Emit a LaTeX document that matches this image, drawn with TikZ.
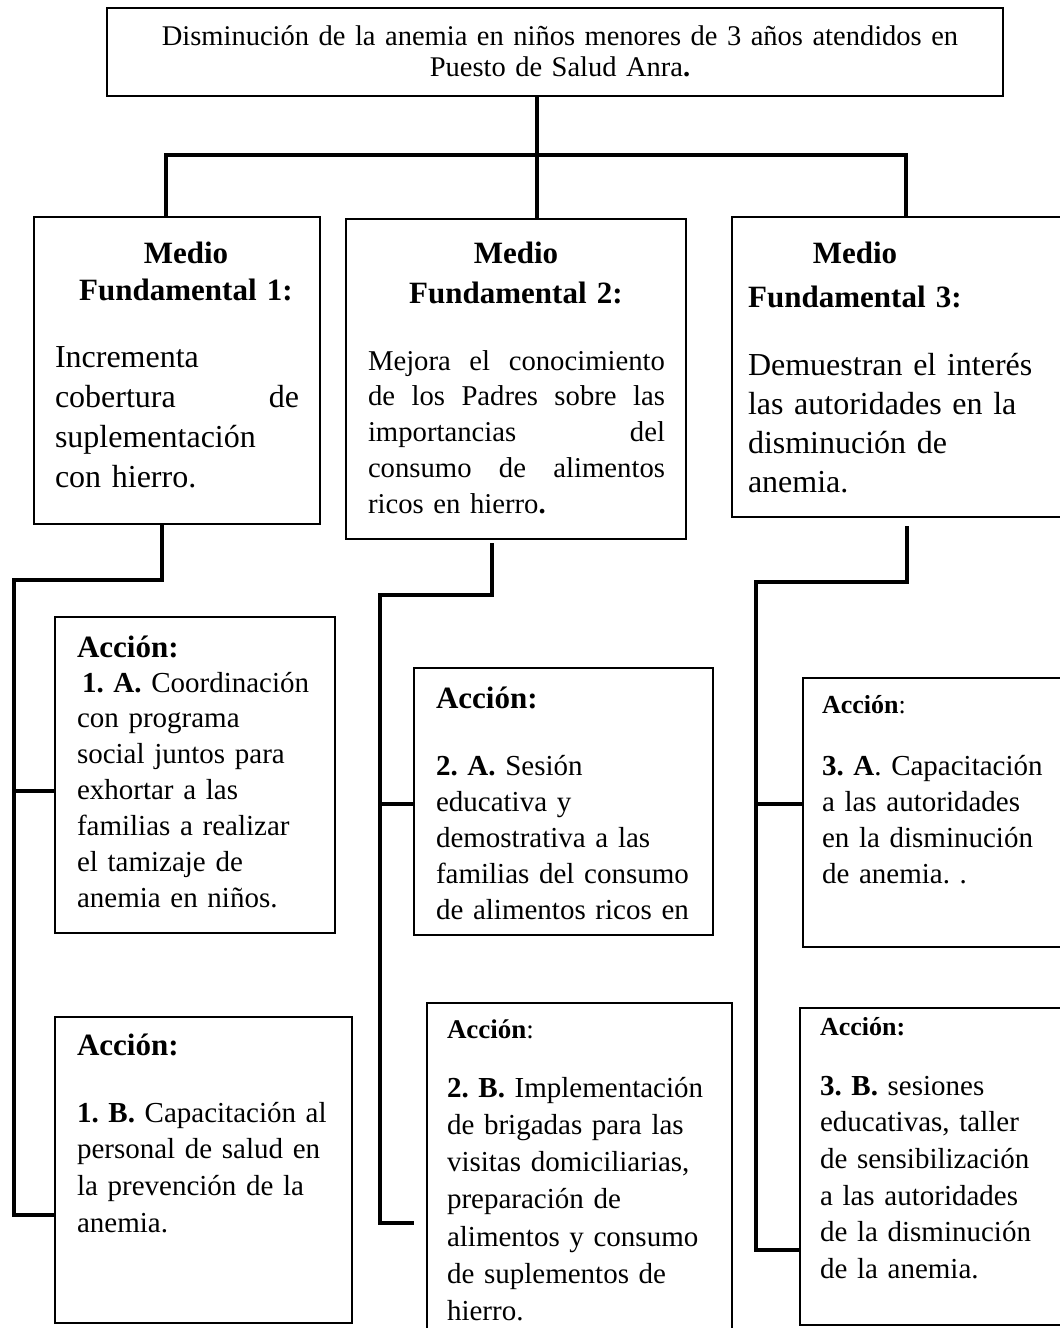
\documentclass[tikz,border=0pt]{standalone}
\usepackage{fontspec}
\setmainfont{Liberation Serif}
\usetikzlibrary{calc}
\newcommand{\jsp}{\hspace{0pt plus 1fil}}
\begin{document}
\frenchspacing
\begin{tikzpicture}[x=1pt,y=-1pt,
  box/.style={draw, line width=2pt, inner sep=0pt, outer sep=0pt, anchor=north west},
  conn/.style={line width=3.5pt, line join=miter},
  txt/.style={inner sep=0pt, outer sep=0pt, anchor=base west, align=left, text width=#1},
  head/.style={inner sep=0pt, outer sep=0pt, anchor=base, align=center, text width=330pt},
  actbig/.style={font=\bfseries\fontsize{31}{36}\selectfont},
  body/.style={font=\fontsize{29}{#1}\selectfont}
]
\useasboundingbox[fill=white] (0,0) rectangle (1060,1328);

% boxes
\node[box, line width=2.5pt, minimum width=896pt, minimum height=88pt] (top) at (107,8) {};
\node[box, minimum width=286pt, minimum height=307pt] (mf1) at (34,217) {};
\node[box, minimum width=340pt, minimum height=320pt] (mf2) at (346,219) {};
\node[box, minimum width=345pt, minimum height=300pt] (mf3) at (732,217) {};
\node[box, minimum width=280pt, minimum height=316pt] (a1a) at (55,617) {};
\node[box, minimum width=299pt, minimum height=267pt] (a2a) at (414,668) {};
\node[box, minimum width=275pt, minimum height=269pt] (a3a) at (803,678) {};
\node[box, minimum width=297pt, minimum height=306pt] (a1b) at (55,1017) {};
\node[box, minimum width=305pt, minimum height=345pt] (a2b) at (427,1003) {};
\node[box, minimum width=275pt, minimum height=317pt] (a3b) at (800,1008) {};

% connectors top
\coordinate (j0) at (537,155);
\coordinate (jl) at (166,155);
\coordinate (jr) at (906,155);
\draw[conn] (top.south -| j0) -- (j0 |- mf2.north);
\draw[conn, line cap=rect] (jl) -- (jr);
\draw[conn] (jl) -- (jl |- mf1.north);
\draw[conn] (jr) -- (jr |- mf3.north);

% left chain
\coordinate (k1) at (162,580);
\coordinate (s1) at (14,580);
\coordinate (e1) at (14,1215);
\coordinate (b1) at (14,791);
\draw[conn] (k1 |- mf1.south) -- (k1) -- (s1) -- (e1) -- (e1 -| a1b.west);
\draw[conn] (b1) -- (b1 -| a1a.west);

% middle chain
\coordinate (k2) at (492,595);
\coordinate (s2) at (380,595);
\coordinate (e2) at (380,1223);
\coordinate (f2) at (414,1223);
\coordinate (b2) at (380,804);
\draw[conn] ($(k2 |- mf2.south)+(0,4)$) -- (k2) -- (s2) -- (e2) -- (f2);
\draw[conn] (b2) -- (b2 -| a2a.west);

% right chain
\coordinate (k3) at (907,582);
\coordinate (s3) at (756,582);
\coordinate (e3) at (756,1250);
\coordinate (b3) at (756,804);
\draw[conn] ($(k3 |- mf3.south)+(0,9)$) -- (k3) -- (s3) -- (e3) -- (e3 -| a3b.west);
\draw[conn] (b3) -- (b3 -| a3a.west);

% texts
\node[txt=900pt, align=center, anchor=base, font=\fontsize{28.5}{31.5}\selectfont] (toptxt) at (560,45)
  {Disminución de la anemia en niños menores de 3 años atendidos en\\ Puesto de Salud Anra\textbf{.}};

\node[head, font=\bfseries\fontsize{31}{37}\selectfont] (mf1h) at (186,263) {Medio\\ Fundamental 1:};
\node[head, font=\bfseries\fontsize{31}{40}\selectfont] (mf2h) at (516,263) {Medio\\ Fundamental 2:};
\node[head, font=\bfseries\fontsize{31}{44}\selectfont] (mf3h) at (855,263) {Medio\\ Fundamental 3:};

\node[txt=244pt, font=\fontsize{32}{40}\selectfont] (mf1b) at (55,367)
  {Incrementa\\ \makebox[244pt][s]{cobertura\jsp de}\\ suplementación\\ con hierro.};
\node[txt=297pt, font=\fontsize{28.7}{35.8}\selectfont] (mf2b) at (368,370)
  {\makebox[297pt][s]{Mejora\jsp el\jsp conocimiento}\\
   \makebox[297pt][s]{de\jsp los\jsp Padres\jsp sobre\jsp las}\\
   \makebox[297pt][s]{importancias\jsp del}\\
   \makebox[297pt][s]{consumo\jsp de\jsp alimentos}\\
   ricos en hierro\textbf{.}};
\node[txt=320pt, font=\fontsize{32}{39.3}\selectfont] (mf3b) at (748,375)
  {Demuestran el interés\\ las autoridades en la\\ disminución de\\ anemia.};

\node[txt=270pt, actbig] (a1ah) at (77,657) {Acción:};
\node[txt=280pt, body=35.9] (a1at) at (77,692)
  {\hspace*{5pt}\textbf{1. A.} Coordinación\\ con programa\\ social juntos para\\ exhortar a las\\ familias a realizar\\ el tamizaje de\\ anemia en niños.};

\node[txt=270pt, actbig] (a2ah) at (436,708) {Acción:};
\node[txt=280pt, body=36.2] (a2at) at (436,775)
  {\textbf{2. A.} Sesión\\ educativa y\\ demostrativa a las\\ familias del consumo\\ de alimentos ricos en};

\node[txt=270pt, font=\fontsize{26}{30}\selectfont] (a3ah) at (822,713) {\textbf{Acción}:};
\node[txt=280pt, body=36] (a3at) at (822,775)
  {\textbf{3. A}. Capacitación\\ a las autoridades\\ en la disminución\\ de anemia. .};

\node[txt=270pt, actbig] (a1bh) at (77,1055) {Acción:};
\node[txt=280pt, body=36.7] (a1bt) at (77,1122)
  {\textbf{1. B.} Capacitación al\\ personal de salud en\\ la prevención de la\\ anemia.};

\node[txt=270pt, font=\fontsize{27}{30}\selectfont] (a2bh) at (447,1038) {\textbf{Acción}:};
\node[txt=280pt, body=37.3] (a2bt) at (447,1097)
  {\textbf{2. B.} Implementación\\ de brigadas para las\\ visitas domiciliarias,\\ preparación de\\ alimentos y consumo\\ de suplementos de\\ hierro.};

\node[txt=270pt, font=\bfseries\fontsize{26}{30}\selectfont] (a3bh) at (820,1035) {Acción:};
\node[txt=280pt, body=36.7] (a3bt) at (820,1095)
  {\textbf{3. B.} sesiones\\ educativas, taller\\ de sensibilización\\ a las autoridades\\ de la disminución\\ de la anemia.};
\end{tikzpicture}
\end{document}
